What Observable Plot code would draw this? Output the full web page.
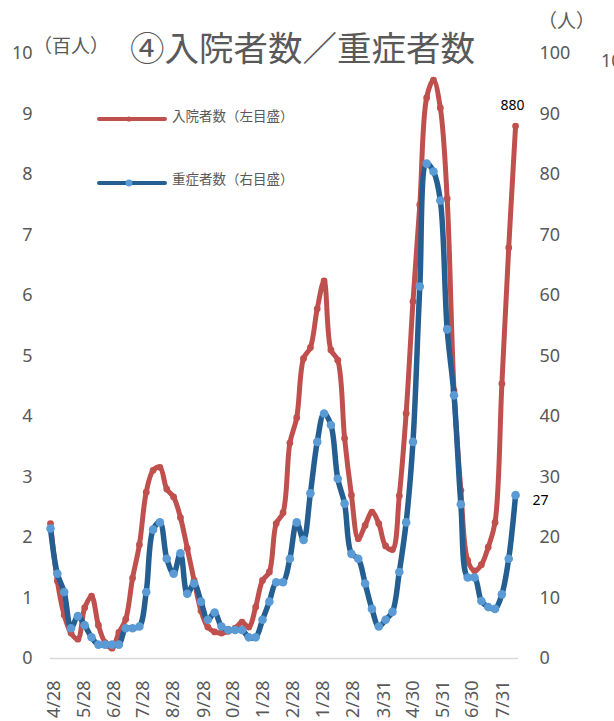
<!DOCTYPE html>
<html><head><meta charset="utf-8">
<script src="https://cdn.jsdelivr.net/npm/d3@7"></script>
<script src="https://cdn.jsdelivr.net/npm/@observablehq/plot@0.6"></script>
<style>
body{margin:0;background:#fff;}
#wrap{position:relative;width:614px;height:721px;overflow:hidden;background:#fff;font-family:"Noto Sans","Noto Sans CJK JP",sans-serif;color:#595959;}
.abs{position:absolute;white-space:nowrap;line-height:1;}
.jp{font-family:"Noto Sans CJK JP",sans-serif;}
#wrap svg.plot{position:absolute;left:0;top:0;}
</style></head><body><div id="wrap"></div>
<script>
// ---- data (weekly) ----
const dates = [
"2020-04-28","2020-05-05","2020-05-12","2020-05-19","2020-05-26","2020-06-02","2020-06-09","2020-06-16","2020-06-23","2020-06-30",
"2020-07-07","2020-07-14","2020-07-21","2020-07-28","2020-08-04","2020-08-11","2020-08-18","2020-08-25","2020-09-01","2020-09-08",
"2020-09-15","2020-09-22","2020-09-29","2020-10-06","2020-10-13","2020-10-20","2020-10-27","2020-11-03","2020-11-10","2020-11-17",
"2020-11-24","2020-12-01","2020-12-08","2020-12-15","2020-12-22","2020-12-29","2021-01-05","2021-01-12","2021-01-19","2021-01-26",
"2021-02-02","2021-02-09","2021-02-16","2021-02-23","2021-03-02","2021-03-09","2021-03-16","2021-03-23","2021-03-30","2021-04-06",
"2021-04-13","2021-04-20","2021-04-27","2021-05-04","2021-05-11","2021-05-18","2021-05-25","2021-06-01","2021-06-08","2021-06-15",
"2021-06-22","2021-06-29","2021-07-06","2021-07-13","2021-07-20","2021-07-27","2021-08-03","2021-08-10","2021-08-17"];
// 入院者数 (百人)
const hospitalized = [
2.23,1.28,0.72,0.42,0.32,0.84,1.03,0.55,0.26,0.17,
0.43,0.65,1.33,1.88,2.75,3.11,3.16,2.80,2.67,2.33,
1.82,1.29,0.79,0.52,0.44,0.42,0.45,0.50,0.60,0.52,
0.85,1.29,1.43,2.23,2.41,3.56,3.98,4.96,5.14,5.78,
6.24,5.10,4.93,3.64,2.70,1.98,2.20,2.42,2.23,1.86,
1.80,2.69,4.05,5.90,7.50,9.27,9.56,9.10,7.60,4.43,
2.78,1.62,1.45,1.55,1.84,2.25,4.54,6.79,8.80];
// 重症者数 (人)
const severe = [
21.5,14,11,5,7,5.5,3.5,2.3,2.3,2.3,
2.3,5,5,5.3,11,21.3,22.5,16.5,14,17.4,
10.7,12.4,9.4,6.4,7.6,5.3,4.7,4.7,4.7,3.5,
3.5,6.4,9.4,12.6,12.6,16.5,22.5,19.6,27.3,35.8,
40.5,38.6,29.7,25.6,17.3,16.5,12.4,8.2,5.3,6.4,
7.7,14.3,22.5,35.8,61.5,81.8,80.5,75.7,54.4,43.5,
25.5,13.4,13.4,9.5,8.5,8.2,10.6,16.5,27];
const xTicks = ["2020-04-28","2020-05-28","2020-06-28","2020-07-28","2020-08-28","2020-09-28","2020-10-28","2020-11-28",
"2020-12-28","2021-01-28","2021-02-28","2021-03-31","2021-04-30","2021-05-31","2021-06-30","2021-07-31"];
const xTickLabels = ["4/28","5/28","6/28","7/28","8/28","9/28","10/28","11/28","12/28","1/28","2/28","3/31","4/30","5/31","6/30","7/31"];
const leftTicks = [0,1,2,3,4,5,6,7,8,9,10];
const rightTickLabels = ["0","10","20","30","40","50","60","70","80","90","100"];
const lastHospLabel = "880";
const lastSevLabel = "27";

const data = dates.map((d,i)=>({date:new Date(d), hosp:hospitalized[i], sev:severe[i]}));
const last = [data[data.length-1]];
const xLabelMap = new Map(xTicks.map((t,i)=>[+new Date(t), xTickLabels[i]]));
const rightMap = new Map(leftTicks.map((t,i)=>[t, rightTickLabels[i]]));
const RED="#C0504D", DBLUE="#255E91", LBLUE="#5B9BD5", GRAY="#595959";

const chart = Plot.plot({
  width:614, height:721,
  marginTop:53, marginBottom:63, marginLeft:50, marginRight:96,
  style:{fontFamily:'"Noto Sans","Noto Sans CJK JP",sans-serif', fontSize:"18px", color:GRAY, background:"transparent"},
  x:{type:"utc", domain:[new Date("2020-04-28"), new Date("2021-08-20")]},
  y:{domain:[0,10]},
  marks:[
    Plot.ruleY([0], {stroke:"#D9D9D9", strokeWidth:1.5}),
    Plot.axisY({anchor:"left", ticks:leftTicks, tickSize:0, tickPadding:18, label:null, fill:GRAY}),
    Plot.axisY({anchor:"right", ticks:leftTicks, tickSize:0, tickPadding:21, label:null, fill:GRAY, tickFormat:d=>rightMap.get(d)}),
    Plot.axisX({ticks:xTicks.map(t=>new Date(t)), tickFormat:d=>xLabelMap.get(+d), tickRotate:-90, tickSize:0, tickPadding:22, label:null, fill:GRAY, dx:4}),
    Plot.line(data,{x:"date", y:"hosp", stroke:RED, strokeWidth:5, curve:"catmull-rom"}),
    Plot.dot(data,{x:"date", y:"hosp", r:3.4, fill:RED}),
    Plot.line(data,{x:"date", y:d=>d.sev/10, stroke:DBLUE, strokeWidth:5.5, curve:"catmull-rom"}),
    Plot.dot(data,{x:"date", y:d=>d.sev/10, r:4.3, fill:LBLUE}),
    Plot.text(last,{x:"date", y:"hosp", text:()=>lastHospLabel, dx:-3, dy:-21, fill:"#000", fontSize:14}),
    Plot.text(last,{x:"date", y:d=>d.sev/10, text:()=>lastSevLabel, dx:25, dy:5, fill:"#000", fontSize:14})
  ]
});
const wrap = document.getElementById("wrap");
wrap.appendChild(chart);

function add(html, style, cls){
  const el=document.createElement("div");
  el.className="abs "+(cls||"");
  el.setAttribute("style", style);
  el.innerHTML=html;
  wrap.appendChild(el);
}
add("④入院者数／重症者数","left:130px;top:29px;font-size:34.5px;color:#595959;","jp");
add("（百人）","left:33px;top:35px;font-size:19px;color:#595959;","jp");
add("（人）","left:538px;top:10px;font-size:19px;color:#595959;","jp");
add("10","left:601px;top:51px;font-size:18px;color:#595959;");
// legend
function swatch(line, dot, r){
  return `<svg width="72" height="12" style="vertical-align:middle"><line x1="3" y1="6" x2="69" y2="6" stroke="${line}" stroke-width="4" stroke-linecap="round"/><circle cx="33" cy="6" r="${r}" fill="${dot}"/></svg>`;
}
add(swatch(RED,RED,2.6),"left:96px;top:109px;");
add("入院者数（左目盛）","left:172px;top:109px;font-size:13.5px;color:#595959;","jp");
add(swatch(DBLUE,LBLUE,3.4),"left:96px;top:173px;");
add("重症者数（右目盛）","left:172px;top:172px;font-size:13.5px;color:#595959;","jp");
</script></body></html>
